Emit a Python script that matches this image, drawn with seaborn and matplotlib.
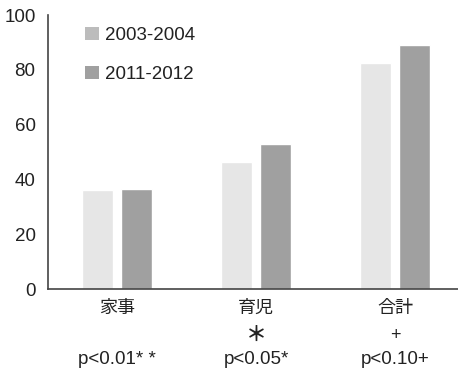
import matplotlib
matplotlib.use("Agg")
import matplotlib.pyplot as plt
from matplotlib.patches import Patch
import seaborn as sns
import pandas as pd

categories = ["家事", "育児", "合計"]
periods = ["2003-2004", "2011-2012"]
values_2003 = [36.1, 46.5, 82.6]
values_2011 = [36.5, 52.9, 89.0]
marks = ["", "＊", "+"]
p_labels = ["p<0.01* *", "p<0.05*", "p<0.10+"]
yticks = [0, 20, 40, 60, 80, 100]

bar_colors = ["#e6e6e6", "#a0a0a0"]
legend_colors = ["#bcbcbc", "#a0a0a0"]
text_color = "#222222"

sns.set_style("white")
plt.rcParams["font.family"] = ["Liberation Sans", "Noto Sans CJK JP", "DejaVu Sans"]

df = pd.DataFrame({
    "category": categories * 2,
    "period": [periods[0]] * 3 + [periods[1]] * 3,
    "value": values_2003 + values_2011,
})

fig = plt.figure(figsize=(4.58, 3.74), dpi=100)
ax = fig.add_axes([48 / 458, 1 - 289 / 374, 1 - 48 / 458, (289 - 15) / 374])

sns.barplot(data=df, x="category", y="value", hue="period", order=categories,
            hue_order=periods, palette=bar_colors, width=0.56, gap=0.2,
            saturation=1, legend=False, ax=ax)

ax.set_xlim(-0.496, 2.45)
ax.set_ylim(0, 100)
ax.set_yticks(yticks)
ax.set_yticklabels([str(t) for t in yticks], fontsize=13.5, color=text_color)
ax.set_xticks([])
ax.set_xlabel("")
ax.set_ylabel("")
ax.tick_params(axis="y", length=0, pad=9)

for side in ["top", "right"]:
    ax.spines[side].set_visible(False)
for side in ["left", "bottom"]:
    ax.spines[side].set_color("#444444")
    ax.spines[side].set_linewidth(1.2)

# category names, significance marks and p-value notes under the axis
units_per_px = 100 / 274
for i, (cat, mk, pl) in enumerate(zip(categories, marks, p_labels)):
    ax.text(i, -19 * units_per_px, cat, ha="center", va="center",
            fontsize=13, color=text_color, clip_on=False)
    if mk:
        ax.text(i, -46 * units_per_px, mk, ha="center", va="center",
                fontsize=15 if mk == "＊" else 13, color=text_color,
                fontweight="bold" if mk == "＊" else "normal", clip_on=False)
    ax.text(i, -71 * units_per_px, pl, ha="center", va="center", fontsize=13.5,
            color=text_color, clip_on=False)

handles = [Patch(facecolor=c, edgecolor="none") for c in legend_colors]
ax.legend(handles, periods, loc="upper left", bbox_to_anchor=(0.058, 1.005),
          frameon=False, fontsize=13.5, handlelength=0.75, handleheight=0.75,
          handletextpad=0.3, labelspacing=1.15, labelcolor=text_color,
          borderaxespad=0.3)

fig.savefig("out.png", dpi=100)
